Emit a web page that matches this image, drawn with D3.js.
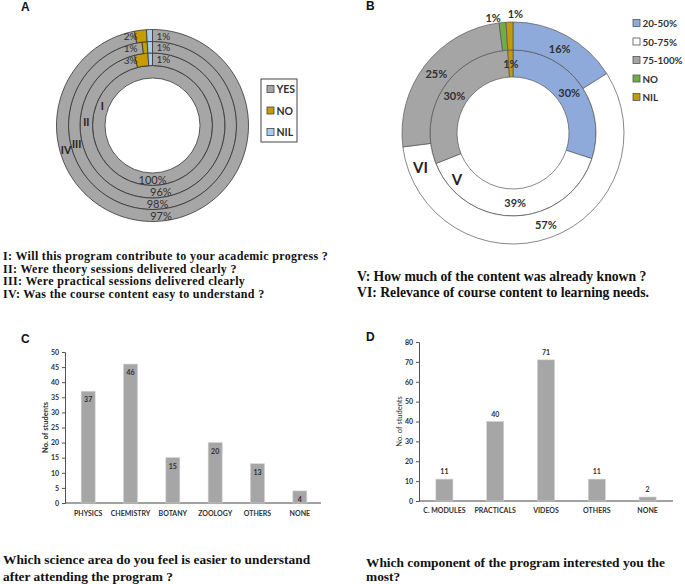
<!DOCTYPE html>
<html><head><meta charset="utf-8">
<script src="https://cdn.jsdelivr.net/npm/d3@7"></script>
<style>body{margin:0;background:#fff} svg{display:block}</style>
</head><body><svg id="c" width="685" height="584"></svg>
<script>
// ---------- DATA ----------
const categoriesA = ["YES", "NO", "NIL"];
const ringNamesA = ["I", "II", "III", "IV"];
const yesA = [100, 96, 98, 97];
const noA  = [0, 3, 1, 2];
const nilA = [0, 1, 1, 1];

const categoriesB = ["20-50%", "50-75%", "75-100%", "NO", "NIL"];
const ringNamesB = ["V", "VI"];
const valuesV  = [30, 39, 30, 0, 1];
const valuesVI = [16, 57, 25, 1, 1];

const subjectsC = ["PHYSICS", "CHEMISTRY", "BOTANY", "ZOOLOGY", "OTHERS", "NONE"];
const studentsC = [37, 46, 15, 20, 13, 4];
const ticksC = [0, 5, 10, 15, 20, 25, 30, 35, 40, 45, 50];

const componentsD = ["C. MODULES", "PRACTICALS", "VIDEOS", "OTHERS", "NONE"];
const studentsD = [11, 40, 71, 11, 2];
const ticksD = [0, 10, 20, 30, 40, 50, 60, 70, 80];

const captionsA = [
  "I: Will this program contribute to your academic progress ?",
  "II: Were theory sessions delivered clearly ?",
  "III: Were practical sessions delivered clearly",
  "IV: Was the course content easy to understand ?"
];
const captionsB = [
  "V: How much of the content was already known ?",
  "VI: Relevance of course content to learning needs."
];
const captionC = ["Which science area do you feel is easier to understand", "after attending the program ?"];
const captionD = ["Which component of the program interested you the", "most?"];

// ---------- SETUP ----------
const svg = d3.select("#c");
const SANS = "Lato, 'Open Sans', sans-serif";
const SERIF = "'Liberation Serif', 'Times New Roman', serif";
const TXT = "#303030";

function panelLetter(t, x, y) {
  svg.append("text").attr("x", x).attr("y", y).text(t)
    .attr("font-family", "'Liberation Sans', Arial, sans-serif")
    .attr("font-weight", "bold").attr("font-size", 12).attr("fill", "#111");
}
panelLetter("A", 21, 11);
panelLetter("B", 366, 10);
panelLetter("C", 21, 343);
panelLetter("D", 366, 341);

const pie = d3.pie().sort(null).value(d => d.v);

// ---------- PANEL A ----------
{
  const cx = 152.5, cy = 125.5;
  const bounds = [47.5, 60, 72.5, 84, 96];
  const colorA = d3.scaleOrdinal().domain(categoriesA).range(["#a6a6a6", "#c79c00", "#a8cdef"]);
  const g = svg.append("g").attr("transform", `translate(${cx},${cy})`);
  ringNamesA.forEach((rn, i) => {
    const data = categoriesA.map((c, k) => ({ c, v: [yesA, noA, nilA][k][i] }));
    const arcs = pie(data).filter(d => d.data.v > 0);
    const arc = d3.arc().innerRadius(bounds[i]).outerRadius(bounds[i + 1]);
    g.selectAll(null).data(arcs).enter().append("path")
      .attr("d", arc).attr("fill", d => colorA(d.data.c))
      .attr("stroke", "#333").attr("stroke-width", 0.8);
    const mid = (bounds[i] + bounds[i + 1]) / 2;
    const lab = d3.arc().innerRadius(mid).outerRadius(mid);
    arcs.forEach(d => {
      const [x, y] = lab.centroid(d);
      const t = g.append("text").text(d.data.v + "%")
        .attr("font-family", SANS).attr("fill", TXT)
        .attr("dominant-baseline", "central");
      if (d.data.c === "YES") t.attr("x", x).attr("y", y).attr("text-anchor", "middle").attr("font-size", 11);
      else if (d.data.c === "NO") t.attr("x", -15).attr("y", y).attr("text-anchor", "end").attr("font-size", 10);
      else t.attr("x", 4).attr("y", y).attr("text-anchor", "start").attr("font-size", 10);
    });
    // ring name
    const angA = [291, 273, 256, 254][i] * Math.PI / 180;
    g.append("text").text(rn)
      .attr("x", mid * Math.sin(angA)).attr("y", -mid * Math.cos(angA))
      .attr("text-anchor", "middle").attr("dominant-baseline", "central")
      .attr("font-family", SANS).attr("font-weight", "bold").attr("font-size", 10.5).attr("fill", "#222");
  });
  // legend
  const lg = svg.append("g");
  lg.append("rect").attr("x", 261).attr("y", 79).attr("width", 36).attr("height", 63)
    .attr("fill", "#fff").attr("stroke", "#444").attr("stroke-width", 1);
  categoriesA.forEach((c, k) => {
    const y = [89, 110.5, 132][k];
    lg.append("rect").attr("x", 267).attr("y", y - 3.5).attr("width", 7).attr("height", 7)
      .attr("fill", colorA(c)).attr("stroke", "#444").attr("stroke-width", 0.8);
    lg.append("text").attr("x", 276.5).attr("y", y).attr("dominant-baseline", "central")
      .text(c).attr("font-family", SANS).attr("font-weight", "bold").attr("font-size", 10.5).attr("fill", TXT);
  });
  captionsA.forEach((t, k) => {
    svg.append("text").attr("x", 3).attr("y", 260 + k * 12.5).text(t)
      .attr("font-family", SERIF).attr("font-weight", "bold").attr("font-size", 12)
      .attr("letter-spacing", 0.33).attr("fill", "#111");
  });
}

// ---------- PANEL B ----------
{
  const cx = 513, cy = 133;
  const bounds = [56, 83, 111];
  const colorB = d3.scaleOrdinal().domain(categoriesB)
    .range(["#8eaadb", "#ffffff", "#a5a5a5", "#70ad47", "#c49a0c"]);
  const g = svg.append("g").attr("transform", `translate(${cx},${cy})`);
  [valuesV, valuesVI].forEach((vals, i) => {
    const data = categoriesB.map((c, k) => ({ c, v: vals[k] }));
    const arcs = pie(data).filter(d => d.data.v > 0);
    const arc = d3.arc().innerRadius(bounds[i]).outerRadius(bounds[i + 1]);
    g.selectAll(null).data(arcs).enter().append("path")
      .attr("d", arc).attr("fill", d => colorB(d.data.c))
      .attr("stroke", "#555").attr("stroke-width", 0.7);
    const mid = (bounds[i] + bounds[i + 1]) / 2;
    arcs.forEach(d => {
      let x, y, anchor = "middle";
      const a = (d.startAngle + d.endAngle) / 2;
      if (d.data.v > 2 || i === 0) {
        x = mid * Math.sin(a); y = -mid * Math.cos(a);
      } else {
        const r = bounds[i + 1] + 5;
        x = r * Math.sin(a) + (d.data.c === "NO" ? -9 : 6); y = -r * Math.cos(a) + (d.data.c === "NO" ? 0 : -4);
      }
      g.append("text").text(d.data.v + "%").attr("x", x).attr("y", y)
        .attr("text-anchor", anchor).attr("dominant-baseline", "central")
        .attr("font-family", SANS).attr("font-weight", "bold").attr("font-size", 11).attr("fill", TXT);
    });
  });
  g.append("text").text(ringNamesB[1]).attr("x", 420.5 - cx).attr("y", 167 - cy)
    .attr("text-anchor", "middle").attr("dominant-baseline", "central")
    .attr("font-family", SANS).attr("font-weight", "bold").attr("font-size", 15).attr("fill", "#222");
  g.append("text").text(ringNamesB[0]).attr("x", 457 - cx).attr("y", 179 - cy)
    .attr("text-anchor", "middle").attr("dominant-baseline", "central")
    .attr("font-family", SANS).attr("font-weight", "bold").attr("font-size", 15).attr("fill", "#222");
  categoriesB.forEach((c, k) => {
    const y = 23 + k * 18.5;
    svg.append("rect").attr("x", 633).attr("y", y - 3.5).attr("width", 7).attr("height", 7)
      .attr("fill", colorB(c)).attr("stroke", "#555").attr("stroke-width", 0.8);
    svg.append("text").attr("x", 642.5).attr("y", y).attr("dominant-baseline", "central")
      .text(c).attr("font-family", SANS).attr("font-weight", "bold").attr("font-size", 9.8).attr("fill", TXT);
  });
  captionsB.forEach((t, k) => {
    svg.append("text").attr("x", 357).attr("y", 281 + k * 16).text(t)
      .attr("font-family", SERIF).attr("font-weight", "bold").attr("font-size", 13.7).attr("fill", "#111");
  });
}

// ---------- BAR CHART HELPER ----------
function barChart(o) {
  const x = d3.scaleBand().domain(o.cats).range([o.x0, o.x1])
    .paddingInner(o.pad).paddingOuter(o.pad / 2);
  const y = d3.scaleLinear().domain([0, o.ticks[o.ticks.length - 1]]).range([o.y0, o.yTop]);
  const g = svg.append("g");
  const ax = g.append("g").attr("transform", `translate(${o.axisX},0)`)
    .call(d3.axisLeft(y).tickValues(o.ticks).tickSize(3).tickPadding(3));
  ax.select(".domain").attr("stroke", "#555");
  ax.selectAll(".tick line").attr("stroke", "#555");
  ax.selectAll("text").attr("font-family", SANS).attr("font-weight", "bold")
    .attr("font-size", 7).attr("fill", TXT);
  g.append("line").attr("x1", o.axisX).attr("x2", o.x1).attr("y1", o.y0).attr("y2", o.y0)
    .attr("stroke", "#444").attr("stroke-width", 1);
  g.selectAll(null).data(o.vals).enter().append("rect")
    .attr("x", (d, i) => x(o.cats[i])).attr("width", x.bandwidth())
    .attr("y", d => y(d)).attr("height", d => o.y0 - y(d))
    .attr("fill", "#a6a6a6").attr("stroke", "#d0d0d0").attr("stroke-width", 0.6);
  g.selectAll(null).data(o.vals).enter().append("text")
    .attr("x", (d, i) => x(o.cats[i]) + x.bandwidth() / 2)
    .attr("y", d => y(d) + o.labOff).attr("text-anchor", "middle").attr("dominant-baseline", "central")
    .text(d => d).attr("font-family", SANS).attr("font-weight", "bold").attr("font-size", 7).attr("fill", TXT);
  g.selectAll(null).data(o.cats).enter().append("text")
    .attr("x", d => x(d) + x.bandwidth() / 2).attr("y", o.y0 + o.xlabOff)
    .attr("text-anchor", "middle").attr("dominant-baseline", "central").text(d => d)
    .attr("font-family", SANS).attr("font-weight", "bold").attr("font-size", 7).attr("fill", TXT);
  g.append("text").attr("transform", `translate(${o.ytX},${(o.y0 + o.yTop) / 2}) rotate(-90)`)
    .attr("text-anchor", "middle").attr("dominant-baseline", "central").text("No. of students")
    .attr("font-family", SANS).attr("font-weight", o.ytBold ? "bold" : "normal")
    .attr("font-size", 7.5).attr("fill", TXT);
}

barChart({ cats: subjectsC, vals: studentsC, ticks: ticksC, x0: 67, x1: 321, axisX: 65,
  pad: 0.67, y0: 503, yTop: 352, labOff: 8, xlabOff: 10, ytX: 45, ytBold: true });
barChart({ cats: componentsD, vals: studentsD, ticks: ticksD, x0: 419, x1: 673, axisX: 419,
  pad: 0.665, y0: 501, yTop: 342, labOff: -8, xlabOff: 9, ytX: 399, ytBold: false });

captionC.forEach((t, k) => {
  svg.append("text").attr("x", 3).attr("y", 564 + k * 16.5).text(t)
    .attr("font-family", SERIF).attr("font-weight", "bold").attr("font-size", 13.4).attr("fill", "#111");
});
captionD.forEach((t, k) => {
  svg.append("text").attr("x", 366).attr("y", 567 + k * 13.5).text(t)
    .attr("font-family", SERIF).attr("font-weight", "bold").attr("font-size", 13.4).attr("fill", "#111");
});
</script>
</body></html>
